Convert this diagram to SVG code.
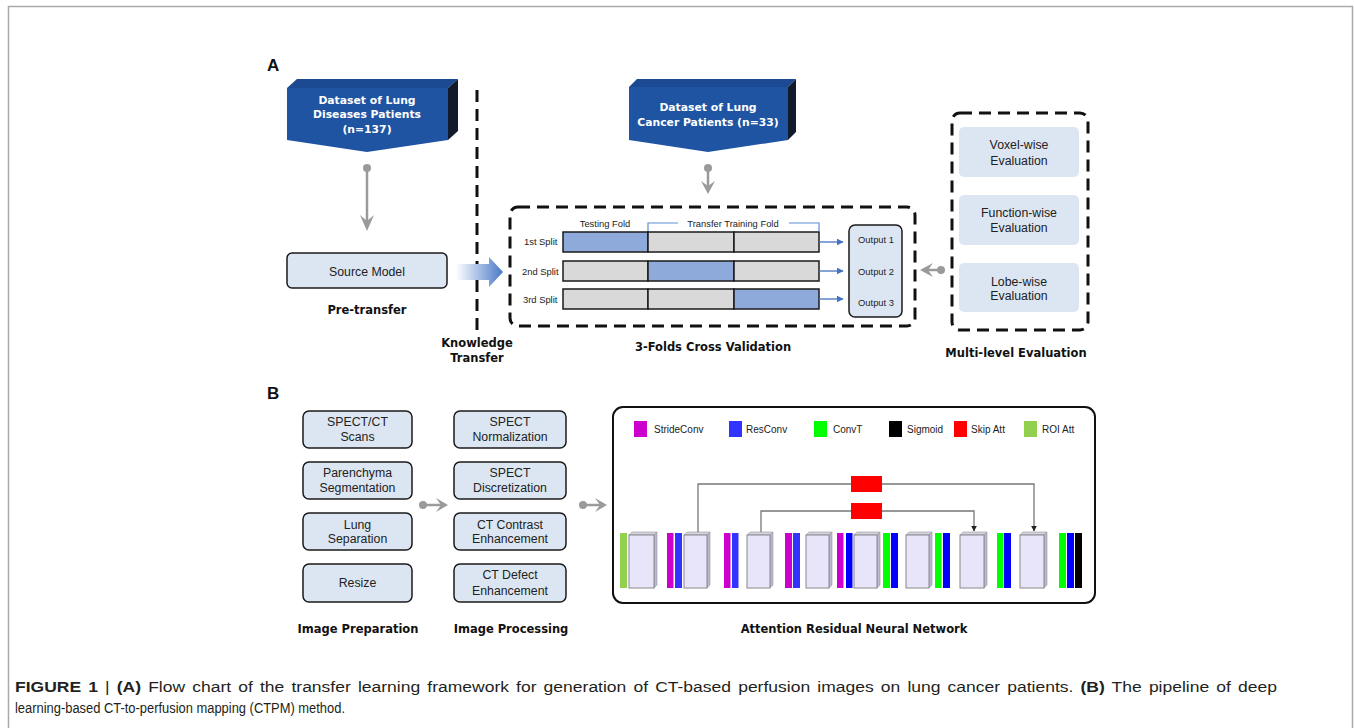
<svg xmlns="http://www.w3.org/2000/svg" width="1354" height="728" viewBox="0 0 1354 728">
<defs>
<style>
.lbl{font-family:"DejaVu Sans",Verdana,sans-serif;font-weight:bold;font-size:11.5px;fill:#111;text-anchor:middle}
.ds{font-family:"DejaVu Sans",Verdana,sans-serif;font-weight:bold;font-size:10.8px;fill:#fff;text-anchor:middle}
.t{font-family:"Liberation Sans",Arial,sans-serif;font-size:12.3px;fill:#222;text-anchor:middle}
.s{font-family:"Liberation Sans",Arial,sans-serif;font-size:9.4px;fill:#222}
.lg{font-family:"Liberation Sans",Arial,sans-serif;font-size:10px;fill:#222}
.box{fill:#dce6f2;stroke:#1a1a1a;stroke-width:1.5}
.dash{fill:none;stroke:#111;stroke-width:3;stroke-dasharray:12 7}
.gline{stroke:#9a9a9a;stroke-width:2.5;fill:none}
.gdot{fill:#9a9a9a}
.cell{stroke:#1a1a1a;stroke-width:1.5}
.blue{fill:#8eaadb}
.gray{fill:#d9d9d9}
.nb{fill:#e8e5fb;stroke:#888;stroke-width:1}
.nbt{fill:#d4d2e2;stroke:#999;stroke-width:0.6}
.nbr{fill:#bcb6d8;stroke:#999;stroke-width:0.6}
.skip{fill:none;stroke:#777;stroke-width:1.3}
.cap{font-family:"Liberation Sans",Arial,sans-serif;font-size:15.5px;fill:#231f20}
</style>
<linearGradient id="kt" x1="0" y1="0" x2="1" y2="0">
<stop offset="0" stop-color="#ffffff"/>
<stop offset="1" stop-color="#4a78c8"/>
</linearGradient>
<marker id="ba" viewBox="0 0 10 10" refX="9" refY="5" markerWidth="7" markerHeight="7" markerUnits="userSpaceOnUse" orient="auto">
<path d="M0,0 L10,5 L0,10 z" fill="#4472c4"/>
</marker>
<marker id="ka" viewBox="0 0 10 10" refX="9" refY="5" markerWidth="6" markerHeight="6" markerUnits="userSpaceOnUse" orient="auto">
<path d="M0,0 L10,5 L0,10 z" fill="#222"/>
</marker>
</defs>

<rect x="8.5" y="6.5" width="1344" height="740" fill="#fff" stroke="#aaa" stroke-width="1.5"/>

<text x="267" y="71" font-family="Liberation Sans,Arial,sans-serif" font-weight="bold" font-size="17" fill="#111">A</text>
<text x="267" y="399" font-family="Liberation Sans,Arial,sans-serif" font-weight="bold" font-size="17" fill="#111">B</text>

<g id="dataset-lung-diseases">
<path d="M287,88 L297,79 L458,79 L448,88 z" fill="#1b4a92"/>
<path d="M448,88 L458,79 L458,131 L448,140 z" fill="#111b2c"/>
<path d="M287,88 L448,88 L448,140 L367,152 L287,140 z" fill="#1e54a2"/>
<text class="ds" x="367" y="104">Dataset of Lung</text>
<text class="ds" x="367" y="118">Diseases Patients</text>
<text class="ds" x="367" y="133">(n=137)</text>
</g>

<g id="source-model">
<rect class="box" x="287" y="253" width="160" height="35" rx="5"/>
<text class="t" x="367" y="275.5">Source Model</text>
<text class="lbl" x="367" y="314">Pre-transfer</text>
</g>

<g id="knowledge-transfer">
<line x1="477" y1="90" x2="477" y2="332" class="dash"/>
<path d="M456,264 L489,264 L489,257 L503,272 L489,287 L489,280 L456,280 z" fill="url(#kt)"/>
<text class="lbl" x="477" y="347">Knowledge</text>
<text class="lbl" x="477" y="362">Transfer</text>
</g>

<g id="dataset-lung-cancer">
<path d="M629,87 L637,79 L796,79 L788,87 z" fill="#1b4a92"/>
<path d="M788,87 L796,79 L796,132 L788,140 z" fill="#111b2c"/>
<path d="M629,87 L788,87 L788,140 L708,152 L629,140 z" fill="#1e54a2"/>
<text class="ds" x="708" y="111">Dataset of Lung</text>
<text class="ds" x="708" y="126">Cancer Patients (n=33)</text>
</g>

<g id="cross-validation">
<rect class="dash" x="510" y="207" width="405" height="119" rx="8"/>
<text class="s" x="605" y="227" text-anchor="middle">Testing Fold</text>
<path d="M648,231 L648,223 L678,223 M789,223 L819,223 L819,231" fill="none" stroke="#5b8fd6" stroke-width="1.2"/>
<text class="s" x="733" y="227" text-anchor="middle">Transfer Training Fold</text>
<text class="s" x="524" y="245">1st Split</text>
<text class="s" x="522" y="274.5">2nd Split</text>
<text class="s" x="523" y="302.5">3rd Split</text>
<rect class="cell blue" x="563" y="232" width="85" height="20"/>
<rect class="cell gray" x="648" y="232" width="86" height="20"/>
<rect class="cell gray" x="734" y="232" width="85" height="20"/>
<rect class="cell gray" x="563" y="261" width="85" height="20"/>
<rect class="cell blue" x="648" y="261" width="86" height="20"/>
<rect class="cell gray" x="734" y="261" width="85" height="20"/>
<rect class="cell gray" x="563" y="289" width="85" height="20"/>
<rect class="cell gray" x="648" y="289" width="86" height="20"/>
<rect class="cell blue" x="734" y="289" width="85" height="20"/>
<text class="lbl" x="713" y="351">3-Folds Cross Validation</text>
</g>

<g id="outputs">
<rect class="box" x="849" y="225" width="53" height="92" rx="6"/>
<text class="s" x="876" y="243" text-anchor="middle">Output 1</text>
<text class="s" x="876" y="275" text-anchor="middle">Output 2</text>
<text class="s" x="876" y="306" text-anchor="middle">Output 3</text>
</g>

<g id="multi-level-evaluation">
<rect class="dash" x="952" y="113" width="136" height="217" rx="8"/>
<rect x="959" y="127" width="120" height="50" rx="5" fill="#dce6f2"/>
<rect x="959" y="195" width="120" height="50" rx="5" fill="#dce6f2"/>
<rect x="959" y="263" width="120" height="49" rx="5" fill="#dce6f2"/>
<text class="t" x="1019" y="149" font-size="12">Voxel-wise</text>
<text class="t" x="1019" y="165" font-size="12">Evaluation</text>
<text class="t" x="1019" y="217" font-size="12">Function-wise</text>
<text class="t" x="1019" y="232" font-size="12">Evaluation</text>
<text class="t" x="1019" y="286" font-size="12">Lobe-wise</text>
<text class="t" x="1019" y="300" font-size="12">Evaluation</text>
<text class="lbl" x="1016" y="357">Multi-level Evaluation</text>
</g>

<g id="image-preparation">
<rect class="box" x="303" y="411" width="109" height="37" rx="6"/>
<rect class="box" x="303" y="462" width="109" height="37" rx="6"/>
<rect class="box" x="303" y="513" width="109" height="37" rx="6"/>
<rect class="box" x="303" y="564" width="109" height="38" rx="6"/>
<text class="t" x="357.5" y="426">SPECT/CT</text>
<text class="t" x="357.5" y="441">Scans</text>
<text class="t" x="357.5" y="477">Parenchyma</text>
<text class="t" x="357.5" y="492">Segmentation</text>
<text class="t" x="357.5" y="529">Lung</text>
<text class="t" x="357.5" y="543">Separation</text>
<text class="t" x="357.5" y="587">Resize</text>
<text class="lbl" x="358" y="633">Image Preparation</text>
</g>

<g id="image-processing">
<rect class="box" x="454" y="411" width="112" height="37" rx="6"/>
<rect class="box" x="454" y="462" width="112" height="37" rx="6"/>
<rect class="box" x="454" y="513" width="112" height="37" rx="6"/>
<rect class="box" x="454" y="564" width="112" height="38" rx="6"/>
<text class="t" x="510" y="426">SPECT</text>
<text class="t" x="510" y="441">Normalization</text>
<text class="t" x="510" y="477">SPECT</text>
<text class="t" x="510" y="492">Discretization</text>
<text class="t" x="510" y="529">CT Contrast</text>
<text class="t" x="510" y="543">Enhancement</text>
<text class="t" x="510" y="579">CT Defect</text>
<text class="t" x="510" y="595">Enhancement</text>
<text class="lbl" x="511" y="633">Image Processing</text>
</g>

<g id="attention-residual-network">
<rect x="613" y="407" width="482" height="196" rx="10" fill="#fff" stroke="#111" stroke-width="2"/>
<rect x="634" y="421" width="13" height="16" fill="#cc00cc"/>
<text class="lg" x="654" y="433">StrideConv</text>
<rect x="729" y="421" width="13" height="16" fill="#3333ff"/>
<text class="lg" x="746" y="433">ResConv</text>
<rect x="814" y="421" width="13" height="16" fill="#00ff00"/>
<text class="lg" x="833" y="433">ConvT</text>
<rect x="889" y="421" width="13" height="16" fill="#000"/>
<text class="lg" x="907" y="433">Sigmoid</text>
<rect x="954" y="421" width="13" height="16" fill="#ff0000"/>
<text class="lg" x="971" y="433">Skip Att</text>
<rect x="1024" y="421" width="13" height="16" fill="#92d050"/>
<text class="lg" x="1042" y="433">ROI Att</text>

<g id="bars">
<rect x="620" y="533" width="7" height="55" fill="#92d050"/>
<rect x="667" y="533" width="6.5" height="55" fill="#cc00cc"/>
<rect x="675" y="533" width="7" height="55" fill="#3333ff"/>
<rect x="724" y="533" width="6.5" height="55" fill="#cc00cc"/>
<rect x="732" y="533" width="6.5" height="55" fill="#3333ff"/>
<rect x="785" y="533" width="7" height="55" fill="#cc00cc"/>
<rect x="793" y="533" width="7" height="55" fill="#3333ff"/>
<rect x="837" y="533" width="6.5" height="55" fill="#cc00cc"/>
<rect x="846" y="533" width="6.5" height="55" fill="#0000ff"/>
<rect x="883" y="533" width="7" height="55" fill="#00ff00"/>
<rect x="891" y="533" width="7" height="55" fill="#0000ff"/>
<rect x="935" y="533" width="6.5" height="55" fill="#00ff00"/>
<rect x="943" y="533" width="7" height="55" fill="#0000ff"/>
<rect x="997" y="533" width="6.5" height="55" fill="#00ff00"/>
<rect x="1004" y="533" width="7" height="55" fill="#0000ff"/>
<rect x="1059" y="533" width="7" height="55" fill="#00ff00"/>
<rect x="1067" y="533" width="7" height="55" fill="#0000ff"/>
<rect x="1075" y="533" width="7" height="55" fill="#000"/>
</g>

<g id="blocks">
<g transform="translate(629,0)"><path class="nbt" d="M0,535 L3,532 L28,532 L25,535 z"/><path class="nbr" d="M25,535 L28,532 L28,585 L25,588 z"/><rect class="nb" x="0" y="535" width="25" height="53"/></g>
<g transform="translate(684,0)"><path class="nbt" d="M0,535 L3,532 L26,532 L23,535 z"/><path class="nbr" d="M23,535 L26,532 L26,585 L23,588 z"/><rect class="nb" x="0" y="535" width="23" height="53"/></g>
<g transform="translate(747,0)"><path class="nbt" d="M0,535 L3,532 L26,532 L23,535 z"/><path class="nbr" d="M23,535 L26,532 L26,585 L23,588 z"/><rect class="nb" x="0" y="535" width="23" height="53"/></g>
<g transform="translate(806,0)"><path class="nbt" d="M0,535 L3,532 L26,532 L23,535 z"/><path class="nbr" d="M23,535 L26,532 L26,585 L23,588 z"/><rect class="nb" x="0" y="535" width="23" height="53"/></g>
<g transform="translate(854,0)"><path class="nbt" d="M0,535 L3,532 L26,532 L23,535 z"/><path class="nbr" d="M23,535 L26,532 L26,585 L23,588 z"/><rect class="nb" x="0" y="535" width="23" height="53"/></g>
<g transform="translate(906,0)"><path class="nbt" d="M0,535 L3,532 L26,532 L23,535 z"/><path class="nbr" d="M23,535 L26,532 L26,585 L23,588 z"/><rect class="nb" x="0" y="535" width="23" height="53"/></g>
<g transform="translate(960,0)"><path class="nbt" d="M0,535 L3,532 L27,532 L24,535 z"/><path class="nbr" d="M24,535 L27,532 L27,585 L24,588 z"/><rect class="nb" x="0" y="535" width="24" height="53"/></g>
<g transform="translate(1020,0)"><path class="nbt" d="M0,535 L3,532 L27,532 L24,535 z"/><path class="nbr" d="M24,535 L27,532 L27,585 L24,588 z"/><rect class="nb" x="0" y="535" width="24" height="53"/></g>
</g>

<rect x="851" y="476" width="31" height="16" fill="#ff0000"/>
<rect x="851" y="503" width="31" height="16" fill="#ff0000"/>
<text class="lbl" x="854" y="633">Attention Residual Neural Network</text>
</g>

<g id="connectors">
<line x1="367" y1="168" x2="367" y2="224" class="gline"/>
<circle cx="367" cy="168" r="4" class="gdot"/>
<path d="M360,215 L367,221 L374,215 L367,231 z" fill="#9a9a9a"/>
<line x1="708" y1="168" x2="708" y2="188" class="gline"/>
<circle cx="708" cy="168" r="4" class="gdot"/>
<path d="M701,181 L708,186 L715,181 L708,194 z" fill="#9a9a9a"/>
<line x1="941" y1="270" x2="926" y2="270" class="gline"/>
<circle cx="941" cy="270" r="4" class="gdot"/>
<path d="M933,263 L928,270 L933,277 L920,270 z" fill="#9a9a9a"/>
<line x1="423" y1="505" x2="442" y2="505" class="gline"/>
<circle cx="423" cy="505" r="4" class="gdot"/>
<path d="M436,498 L441,505 L436,512 L448,505 z" fill="#9a9a9a"/>
<line x1="583" y1="505" x2="601" y2="505" class="gline"/>
<circle cx="583" cy="505" r="4" class="gdot"/>
<path d="M595,498 L600,505 L595,512 L607,505 z" fill="#9a9a9a"/>
<line x1="819" y1="242" x2="843" y2="242" stroke="#4472c4" stroke-width="1.3" marker-end="url(#ba)"/>
<line x1="819" y1="271" x2="843" y2="271" stroke="#4472c4" stroke-width="1.3" marker-end="url(#ba)"/>
<line x1="819" y1="299" x2="843" y2="299" stroke="#4472c4" stroke-width="1.3" marker-end="url(#ba)"/>
<path class="skip" d="M698,532 L698,484 L851,484"/>
<path class="skip" d="M882,484 L1034,484 L1034,531" marker-end="url(#ka)"/>
<path class="skip" d="M761,532 L761,511 L851,511"/>
<path class="skip" d="M882,511 L974,511 L974,531" marker-end="url(#ka)"/>
</g>

<g id="caption">
<text class="cap" x="15" y="692" style="word-spacing:2px" textLength="1262" lengthAdjust="spacingAndGlyphs"><tspan font-weight="bold">FIGURE 1</tspan> | <tspan font-weight="bold">(A)</tspan> Flow chart of the transfer learning framework for generation of CT-based perfusion images on lung cancer patients. <tspan font-weight="bold">(B)</tspan> The pipeline of deep</text>
<text class="cap" x="15" y="713" textLength="330" lengthAdjust="spacingAndGlyphs">learning-based CT-to-perfusion mapping (CTPM) method.</text>
</g>
</svg>
